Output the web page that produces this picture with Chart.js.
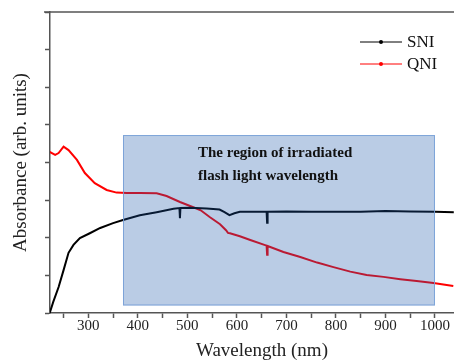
<!DOCTYPE html>
<html>
<head>
<meta charset="utf-8">
<title>Absorbance SNI / QNI</title>
<script src="https://cdn.jsdelivr.net/npm/chart.js@4"></script>
<style>
    html, body { margin: 0; padding: 0; background: #fff; overflow: hidden; }
    .marco { width: 454px; height: 362px; overflow: hidden; }
</style>
</head>
<body>
<div class="marco">
    <canvas id="grafica-absorbancia" width="474" height="362"></canvas>
</div>
<script>
// Espectros de absorbancia (unidades arbitrarias)
const longitudSNI = [222, 229, 240, 250, 260, 270, 283, 303, 324, 350, 370, 404, 438, 472, 484, 485, 486, 505,
    539, 565, 575, 585, 595, 606, 630, 660, 661, 662, 700, 750, 800, 850, 900, 950, 1000, 1038]
const absorbanciaSNI = [0, 0.29, 0.69, 1.14, 1.6, 1.81, 1.99, 2.12, 2.26, 2.39, 2.47, 2.6, 2.68, 2.77, 2.79, 2.52, 2.79, 2.8,
    2.78, 2.75, 2.68, 2.6, 2.65, 2.69, 2.69, 2.69, 2.4, 2.69, 2.7, 2.69, 2.69, 2.69, 2.71, 2.7, 2.69, 2.68]

const longitudQNI = [222, 233, 240, 250, 260, 277, 293, 313, 337, 357, 378, 404, 438, 458, 485, 512, 527, 545,
    566, 578, 582, 586, 606, 627, 660, 661, 662, 694, 728, 762, 795, 829, 862, 896, 930, 963, 997, 1037]
const absorbanciaQNI = [4.28, 4.2, 4.25, 4.42, 4.33, 4.07, 3.72, 3.45, 3.27, 3.2, 3.19, 3.19, 3.18, 3.11, 2.95, 2.81, 2.73, 2.55,
    2.36, 2.2, 2.13, 2.12, 2.04, 1.94, 1.79, 1.55, 1.78, 1.62, 1.49, 1.34, 1.22, 1.1, 1.01, 0.96, 0.9, 0.85, 0.8, 0.72]

// Marcas del eje X y las que llevan número
const marcasX = [250, 300, 350, 400, 450, 500, 550, 600, 650, 700, 750, 800, 850, 900, 950, 1000, 1050]
const etiquetasX = [300, 400, 500, 600, 700, 800, 900, 1000]

// Zona del flash
const regionLongitud = [370, 1000]
const regionAbsorbancia = [0.2, 4.73]
const textoRegion = ["The region of irradiated", "flash light wavelength"]

const fuente = '"Liberation Serif", "Times New Roman", serif'

const puntos = (xs, ys) => xs.map((x, i) => ({ x: x, y: ys[i] }))

// Rectángulo azul semitransparente encima de las curvas
const zonaFlash = {
    id: 'zonaFlash',
    afterDatasetsDraw(chart) {
        const { ctx, scales } = chart
        const x0 = scales.x.getPixelForValue(regionLongitud[0])
        const x1 = scales.x.getPixelForValue(regionLongitud[1])
        const y0 = scales.y.getPixelForValue(regionAbsorbancia[1])
        const y1 = scales.y.getPixelForValue(regionAbsorbancia[0])
        ctx.save()
        ctx.fillStyle = 'rgba(25, 85, 170, 0.3)'
        ctx.fillRect(x0, y0, x1 - x0, y1 - y0)
        ctx.strokeStyle = 'rgba(120, 160, 215, 0.9)'
        ctx.lineWidth = 1
        ctx.strokeRect(x0 + 0.5, y0 + 0.5, x1 - x0 - 1, y1 - y0 - 1)
        ctx.fillStyle = '#111'
        ctx.font = 'bold 15px ' + fuente
        ctx.textBaseline = 'middle'
        textoRegion.forEach((linea, i) => ctx.fillText(linea, x0 + 75, y0 + 18 + i * 23))
        ctx.restore()
    }
}

// Línea superior del marco y leyenda
const marcoYLeyenda = {
    id: 'marcoYLeyenda',
    afterDraw(chart) {
        const { ctx, chartArea } = chart
        ctx.save()
        ctx.strokeStyle = '#555'
        ctx.lineWidth = 1.5
        ctx.beginPath()
        ctx.moveTo(chartArea.left - 6, chartArea.top)
        ctx.lineTo(chartArea.right, chartArea.top)
        ctx.stroke()

        chart.data.datasets.forEach((ds, i) => {
            const y = 42 + i * 22
            ctx.strokeStyle = ds.borderColor
            ctx.lineWidth = 1
            ctx.beginPath()
            ctx.moveTo(360, y)
            ctx.lineTo(402, y)
            ctx.stroke()
            ctx.fillStyle = ds.borderColor
            ctx.beginPath()
            ctx.arc(381, y, 2, 0, Math.PI * 2)
            ctx.fill()
            ctx.fillStyle = '#111'
            ctx.font = '17px ' + fuente
            ctx.textBaseline = 'middle'
            ctx.fillText(ds.label, 407, y + 1)
        })
        ctx.restore()
    }
}

const ctx = document.getElementById('grafica-absorbancia')
new Chart(ctx, {
    type: 'line',
    data: {
        datasets: [{
            label: 'SNI',
            data: puntos(longitudSNI, absorbanciaSNI),
            borderColor: '#000000',
            borderWidth: 2,
            pointRadius: 0,
            tension: 0
        },
        {
            label: 'QNI',
            data: puntos(longitudQNI, absorbanciaQNI),
            borderColor: '#ff0000',
            borderWidth: 2,
            pointRadius: 0,
            tension: 0
        }]
    },
    options: {
        responsive: false,
        animation: false,
        layout: { padding: { top: 12, right: 0, left: 0, bottom: 0 } },
        plugins: {
            legend: { display: false },
            tooltip: { enabled: false }
        },
        scales: {
            x: {
                type: 'linear',
                min: 222.6,
                max: 1078.8,
                afterBuildTicks: scale => { scale.ticks = marcasX.map(v => ({ value: v })) },
                afterFit: scale => { scale.height = 49 },
                ticks: {
                    autoSkip: false,
                    maxRotation: 0,
                    padding: -1,
                    color: '#222',
                    font: { family: fuente, size: 15 },
                    callback: v => etiquetasX.includes(v) ? String(v) : ''
                },
                grid: { drawOnChartArea: false, tickLength: 5, color: '#555', tickWidth: 1.5 },
                border: { color: '#555', width: 1.5 },
                title: {
                    display: true,
                    text: 'Wavelength (nm)',
                    color: '#222',
                    font: { family: fuente, size: 19 },
                    padding: 0
                }
            },
            y: {
                min: 0,
                max: 8,
                afterFit: scale => { scale.width = 50 },
                ticks: { stepSize: 1, display: false },
                grid: { drawOnChartArea: false, tickLength: 5, color: '#555', tickWidth: 1.5 },
                border: { color: '#555', width: 1.5 },
                title: {
                    display: true,
                    text: 'Absorbance (arb. units)',
                    color: '#222',
                    font: { family: fuente, size: 19 },
                    padding: { top: 10, bottom: 0 }
                }
            }
        }
    },
    plugins: [zonaFlash, marcoYLeyenda]
})
</script>
</body>
</html>
